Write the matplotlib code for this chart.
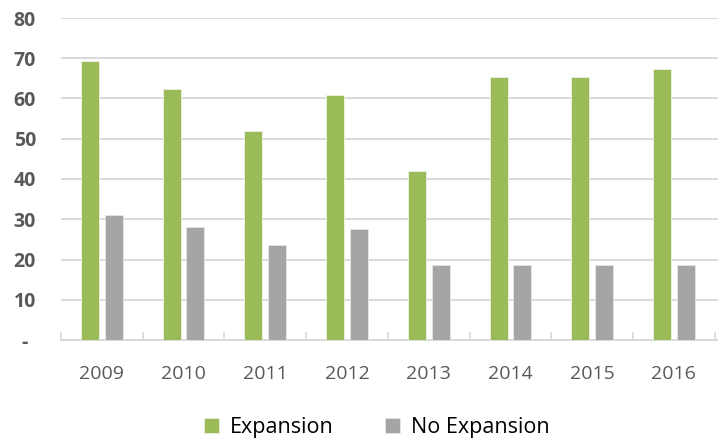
import numpy as np
import matplotlib
matplotlib.use("Agg")
import matplotlib.pyplot as plt
from matplotlib.ticker import FixedLocator

years = ["2009", "2010", "2011", "2012", "2013", "2014", "2015", "2016"]
expansion = [69.3, 62.4, 51.9, 60.9, 42.0, 65.4, 65.4, 67.3]
no_expansion = [31.1, 28.1, 23.6, 27.6, 18.6, 18.6, 18.6, 18.6]
y_ticks = [0, 10, 20, 30, 40, 50, 60, 70, 80]
y_labels = ["-", "10", "20", "30", "40", "50", "60", "70", "80"]

green = "#9bbb59"
gray = "#a5a5a5"
plt.rcParams["font.family"] = ["Open Sans", "DejaVu Sans"]

fig = plt.figure(figsize=(7.18, 4.45), dpi=100)
ax = fig.add_axes([61 / 718, 1 - 340 / 445, 1 - 61 / 718, (340 - 18) / 445])

x = np.arange(len(years))
w = 0.22
ax.bar(x - 0.145, expansion, w, color=green, edgecolor="#eef3e2", linewidth=0.6,
       label="Expansion", zorder=3)
ax.bar(x + 0.145, no_expansion, w, color=gray, edgecolor="#e6e6e6", linewidth=0.6,
       label="No Expansion", zorder=3)

ax.set_xlim(-0.5, len(years) - 0.5 + 0.04)
ax.set_ylim(0, 80)
ax.set_yticks(y_ticks)
ax.set_yticklabels(y_labels, fontsize=14, fontweight="bold", color="#595959")
ax.yaxis.grid(True, color="#d9d9d9", linewidth=1.4, zorder=0)
ax.tick_params(axis="y", length=0, pad=26)
for lab in ax.get_yticklabels():
    lab.set_horizontalalignment("center")

ax.set_xticks(x)
ax.set_xticklabels(years, fontsize=14, color="#595959")
ax.tick_params(axis="x", which="major", length=0, pad=18)
ax.xaxis.set_minor_locator(FixedLocator(np.arange(-0.5, len(years), 1.0)))
ax.tick_params(axis="x", which="minor", direction="in", length=6, width=1.2, color="#d9d9d9")

for s in ["top", "right", "left"]:
    ax.spines[s].set_visible(False)
ax.spines["bottom"].set_color("#d9d9d9")
ax.spines["bottom"].set_linewidth(1.4)

fig.legend(loc="center", bbox_to_anchor=(0.525, 0.04), ncol=2, frameon=False,
           fontsize=15.5, handlelength=0.7, handleheight=0.7, columnspacing=2.4,
           handletextpad=0.5)

fig.savefig("out.png", dpi=100)
